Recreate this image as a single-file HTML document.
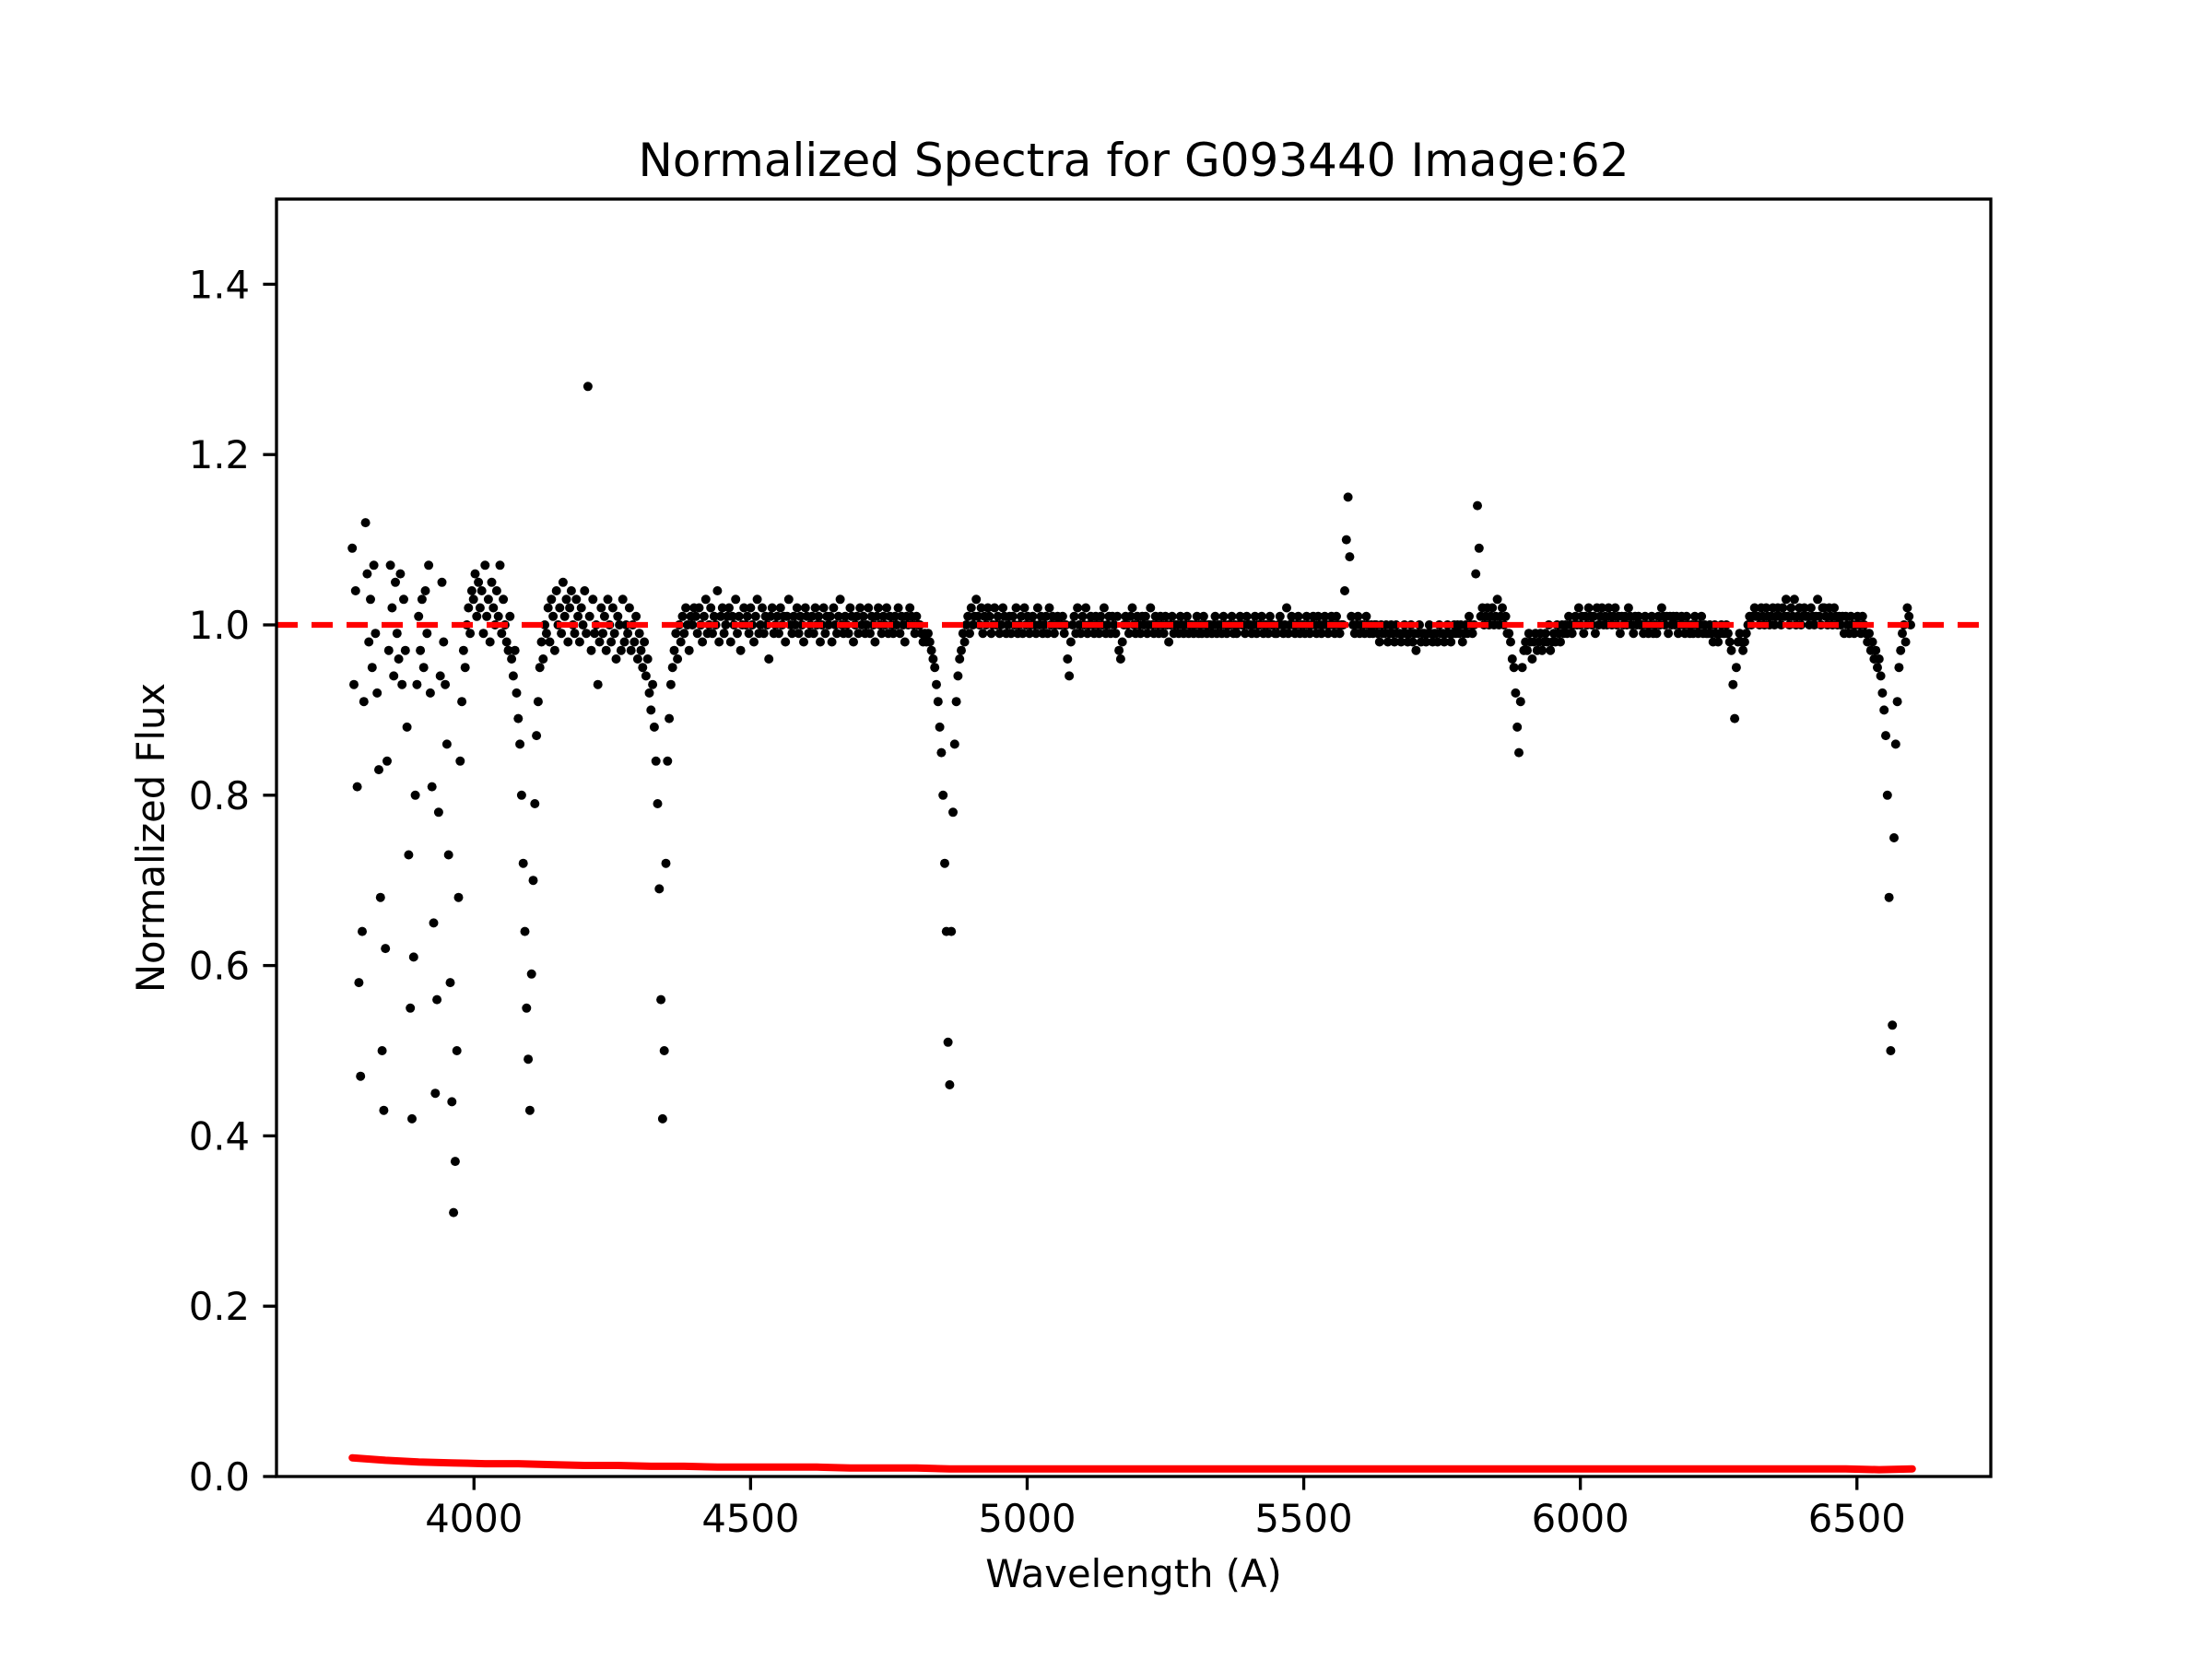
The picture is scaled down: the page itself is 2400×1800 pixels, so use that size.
<!DOCTYPE html>
<html><head><meta charset="utf-8"><style>
html,body{margin:0;padding:0;background:#fff;}
svg{display:block;font-family:"DejaVu Sans","Liberation Sans",sans-serif;}
</style></head>
<body>
<svg id="chart" width="2400" height="1800" viewBox="0 0 2400 1800" xmlns="http://www.w3.org/2000/svg">
<rect x="0" y="0" width="2400" height="1800" fill="#fff"/>
<text x="1230" y="191" font-size="50" text-anchor="middle">Normalized Spectra for G093440 Image:62</text>
<text x="1230" y="1722" font-size="41.7" text-anchor="middle">Wavelength (A)</text>
<text x="0" y="0" font-size="41.7" text-anchor="middle" transform="translate(178,909) rotate(-90)">Normalized Flux</text>
<g id="plot"></g>
</svg>
<script>
const waveStep = 3;
const segStart = [3780,4401,4821,4911,5061,5091,5151,5181,5571,5601,5811,5871,5901,5991,6261,6291,6321,6501,6531,6561,6591];
const segFlux = [
[1.09,0.93,1.04,0.81,0.58,0.47,0.64,
0.91,1.12,1.06,0.98,1.03,0.95,1.07,0.99,0.92,0.83,
0.68,0.50,0.43,0.62,0.84,0.97,1.07,1.02,0.94,1.05,
0.99,0.96,1.06,0.93,1.03,0.97,0.88,0.73,0.55,0.42,
0.61,0.80,0.93,1.01,0.97,1.03,0.95,1.04,0.99,1.07,
0.92,0.81,0.65,0.45,0.56,0.78,0.94,1.05,0.98,0.93,
0.86,0.73,0.58,0.44,0.31,0.37,0.50,0.68,0.84,0.91,
0.97,0.95,1.00,1.02,0.99,1.04,1.03,1.06,1.01,1.05,
1.02,1.04,0.99,1.07,1.01,1.03,0.98,1.05,1.02,1.00,
1.04,1.01,1.07,0.99,1.03,1.00,0.98,0.97,1.01,0.96,
0.94,0.97,0.92,0.89,0.86,0.80,0.72,0.64,0.55,0.49,
0.43,0.59,0.70,0.79,0.87,0.91,0.95,0.98,0.96,1.00,
0.99,1.02,0.98,1.03,1.01,0.97,1.04,1.00,1.02,0.99,
1.05,1.01,1.03,0.98,1.02,1.04,1.00,0.99,1.03,1.01,
0.98,1.02,1.00,1.04,0.99,1.28,1.01,0.97,1.03,0.99,
1.00,0.93,0.98,1.02,0.99,1.01,0.97,1.03,1.00,0.98,
1.02,0.99,0.96,1.01,1.00,0.97,1.03,0.98,1.00,0.99,
1.02,0.97,1.00,0.98,1.01,0.96,0.99,0.97,0.95,0.98,
0.94,0.96,0.92,0.90,0.93,0.88,0.84,0.79,0.69,0.56,
0.42,0.50,0.72,0.84,0.89,0.93,0.95,0.97,0.99,0.96,
1.00,0.98,1.01,0.99,1.02,1.00,0.97,1.01,1.00,1.02],
[1.01,0.99,1.02,1.00,0.98,1.01,1.03,0.99,1.00,1.02,
0.99,1.01,1.00,1.04,0.98,1.01,1.02,0.99,1.00,1.01,
1.02,0.98,1.01,1.00,1.03,0.99,1.01,0.97,1.00,1.02,
1.00,1.01,0.99,1.02,1.00,0.98,1.01,1.03,0.99,1.00,
1.02,0.99,1.01,1.00,0.96,1.01,1.02,0.99,1.00,1.01,
0.99,1.02,1.00,1.01,0.98,1.01,1.03,1.00,0.99,1.01,
1.00,1.02,0.99,1.01,1.00,0.98,1.02,1.01,0.99,1.00,
1.01,0.99,1.02,1.00,1.01,0.98,1.00,1.02,0.99,1.01,
1.00,1.01,0.98,1.02,1.00,0.99,1.01,1.03,1.00,0.99,
1.01,1.00,0.99,1.02,1.01,0.98,1.00,1.01,0.99,1.02,
1.00,1.01,0.99,1.00,1.02,0.99,1.01,1.00,0.98,1.01,
1.02,1.00,0.99,1.01,1.00,1.02,0.99,1.01,1.00,0.99,
1.01,1.00,1.02,0.99,1.01,1.00,0.98,1.01,1.00,1.02,
1.01,1.00,0.99,1.01,1.00,1.00,0.99,0.98,0.99,0.98],
[0.99,0.98,0.97,0.96,0.95,0.93,0.91,0.88,0.85,0.80,
0.72,0.64,0.51,0.46,0.64,0.78,0.86,0.91,0.94,0.96,
0.97,0.99,0.98,1.00,1.01,0.99,1.02,1.00,1.01,1.03],
[1.01,1.00,1.02,0.99,1.01,1.00,1.02,1.01,0.99,1.00,
1.02,1.00,1.01,0.99,1.00,1.02,1.01,0.99,1.00,1.01,
0.99,1.01,1.00,1.02,0.99,1.00,1.01,0.99,1.02,1.00,
1.01,0.99,1.00,1.01,1.00,0.99,1.02,1.00,1.01,0.99,
1.00,1.01,0.99,1.02,1.00,1.01,0.99,1.00,1.01,1.00],
[1.00,1.01,0.99,1.00,0.96,0.94,0.98,1.00,1.01,0.99],
[1.02,1.00,0.99,1.01,1.00,1.02,0.99,1.00,1.01,1.00,
0.99,1.01,1.00,0.99,1.01,1.00,1.02,0.99,1.00,1.01],
[0.99,1.01,1.00,0.99,1.01,0.97,0.96,0.98,1.00,1.01],
[1.00,0.99,1.01,1.02,1.00,0.99,1.01,1.00,0.99,1.01,
1.00,1.01,0.99,1.00,1.02,1.00,0.99,1.01,1.00,0.99,
1.01,1.00,0.99,1.01,1.00,0.98,1.00,1.01,0.99,1.00,
1.00,0.99,1.01,1.00,0.99,1.00,1.01,0.99,1.00,1.00,
0.99,1.00,1.01,0.99,1.00,0.99,1.01,1.00,0.99,1.00,
1.00,0.99,1.00,1.01,0.99,1.00,1.00,0.99,1.01,1.00,
0.99,1.00,1.00,1.01,0.99,1.00,0.99,1.00,1.01,1.00,
1.00,0.99,1.01,1.00,1.00,0.99,1.00,1.01,0.99,1.00,
1.00,1.01,0.99,1.00,1.00,0.99,1.01,1.00,1.00,0.99,
0.99,1.00,1.01,1.00,0.99,1.00,1.02,0.99,1.00,1.01,
1.00,0.99,1.00,1.01,0.99,1.00,1.00,0.99,1.01,1.00,
0.99,1.00,1.01,1.00,0.99,1.01,1.00,0.99,1.00,1.01,
1.00,0.99,1.00,1.01,1.00,0.99,1.01,1.00,0.99,1.00],
[1.00,1.04,1.10,1.15,1.08,1.01,1.00,0.99,1.00,1.01],
[0.99,1.00,1.00,0.99,1.01,1.00,0.99,1.00,0.99,1.00,
1.00,0.99,0.98,1.00,0.99,0.99,1.00,0.98,0.99,1.00,
0.99,0.98,1.00,0.99,0.99,0.98,0.99,1.00,0.99,0.98,
0.99,1.00,0.98,0.99,0.97,0.99,1.00,0.98,0.99,0.99,
0.98,0.99,1.00,0.99,0.98,0.99,0.99,0.98,1.00,0.99,
0.99,0.98,0.99,1.00,0.99,0.98,0.99,1.00,0.99,1.00,
0.99,1.00,0.98,0.99,1.00,0.99,1.01,1.00,0.99,1.00],
[1.06,1.14,1.09,1.01,1.02,1.00,1.01,1.02,1.00,1.01,
1.02,1.00,1.01,1.03,1.00,1.01,1.02,1.00,1.01,0.99],
[0.99,0.98,0.96,0.95,0.92,0.88,0.85,0.91,0.95,0.97],
[0.98,0.97,0.99,0.98,0.96,0.98,0.99,0.97,0.98,0.99,
0.97,0.98,0.99,0.98,1.00,0.97,0.98,0.99,0.98,1.00,
0.99,0.98,1.00,0.99,1.00,0.99,1.01,1.00,0.99,1.00],
[1.01,1.00,1.02,1.00,1.01,0.99,1.01,1.00,1.02,1.01,
1.00,1.01,0.99,1.02,1.00,1.01,1.02,1.00,1.01,1.00,
1.02,1.01,1.00,1.01,1.02,1.00,1.01,0.99,1.01,1.00,
1.01,1.00,1.02,1.01,1.00,0.99,1.01,1.00,1.01,1.00,
1.00,0.99,1.01,1.00,0.99,1.00,1.01,0.99,1.00,0.99,
1.01,1.00,1.02,1.01,1.00,1.01,0.99,1.01,1.00,1.01,
1.00,1.01,0.99,1.00,1.01,1.00,0.99,1.01,1.00,0.99,
1.00,0.99,1.01,1.00,0.99,1.00,1.01,0.99,1.00,0.99,
0.99,1.00,0.99,0.98,1.00,0.99,0.98,0.99,1.00,0.99],
[0.99,1.00,0.99,0.98,0.97,0.93,0.89,0.95,0.98,0.99],
[0.98,0.97,0.98,0.99,1.00,1.01,1.00,1.01,1.02,1.01],
[1.01,1.00,1.02,1.01,1.00,1.02,1.01,1.00,1.01,1.02,
1.00,1.01,1.02,1.01,1.00,1.02,1.01,1.03,1.01,1.00,
1.02,1.01,1.03,1.00,1.01,1.02,1.00,1.01,1.02,1.01,
1.01,1.00,1.02,1.01,1.00,1.01,1.03,1.01,1.00,1.02,
1.02,1.01,1.00,1.02,1.01,1.00,1.02,1.01,1.00,1.01,
1.00,1.01,0.99,1.01,1.00,0.99,1.01,1.00,0.99,1.00],
[1.01,1.00,0.99,1.01,1.00,0.99,0.98,0.99,0.97,0.98],
[0.96,0.97,0.95,0.96,0.94,0.92,0.90,0.87,0.80,0.68],
[0.50,0.53,0.75,0.86,0.91,0.95,0.97,0.99,1.00,0.98],
[1.02,1.01,1.00]
];
const errWave = [3780,3840,3900,3960,4020,4080,4140,4200,4260,4320,4380,4440,4500,4560,4620,4680,4740,4800,4860,4920,4980,5040,5100,5160,5220,5280,5340,5400,5460,5520,5580,5640,5700,5760,5820,5880,5940,6000,6060,6120,6180,6240,6300,6360,6420,6480,6540,6600];
const errFlux = [0.022,0.019,0.017,0.016,0.015,0.015,0.014,0.013,0.013,0.012,0.012,0.011,0.011,0.011,0.011,0.010,0.010,0.010,0.009,0.009,0.009,0.009,0.009,0.009,0.009,0.009,0.009,0.009,0.009,0.009,0.009,0.009,0.009,0.009,0.009,0.009,0.009,0.009,0.009,0.009,0.009,0.009,0.009,0.009,0.009,0.009,0.008,0.009];
const xTicks = [4000,4500,5000,5500,6000,6500];
const yTicks = [0.0,0.2,0.4,0.6,0.8,1.0,1.2,1.4];
const yTickLabels = ["0.0","0.2","0.4","0.6","0.8","1.0","1.2","1.4"];
const refLevel = [1.0];

const L=300,R=2160,T=216,B=1602;
const xMin=3643,xMax=6742,yMin=0,yMax=1.5;
function sx(v){return L+(v-xMin)/(xMax-xMin)*(R-L);}
function sy(v){return B-(v-yMin)/(yMax-yMin)*(B-T);}
const NS="http://www.w3.org/2000/svg";
const plot=document.getElementById('plot');
function mk(tag,attrs,parent){const e=document.createElementNS(NS,tag);for(const k in attrs)e.setAttribute(k,attrs[k]);(parent||plot).appendChild(e);return e;}

const pts=mk('g',{});


segStart.forEach((w0,s)=>{
  segFlux[s].forEach((f,i)=>{
    const c=mk('circle',{cx:sx(w0+i*waveStep).toFixed(1),cy:sy(f).toFixed(1),r:5,fill:'#000'},pts);
    
    
  });
});
const ep=errWave.map((w,i)=>sx(w).toFixed(1)+','+sy(errFlux[i]).toFixed(1)).join(' ');
const el=mk('polyline',{points:ep,fill:'none',stroke:'#ff0000','stroke-width':8,'stroke-linecap':'round','stroke-linejoin':'round'});


refLevel.forEach(v=>{
  const ln=mk('line',{x1:L,x2:R,y1:sy(v),y2:sy(v),stroke:'#ff0000','stroke-width':6.25,'stroke-dasharray':'23 15'});
  
  
});
const fr=mk('rect',{x:L,y:T,width:R-L,height:B-T,fill:'none',stroke:'#000','stroke-width':3.33});


xTicks.forEach(v=>{
  const x=sx(v);
  const t=mk('line',{x1:x,x2:x,y1:B,y2:B+14.6,stroke:'#000','stroke-width':3.33});
  
  
  const tx=mk('text',{x:x,y:B+60,'font-size':41.7,'text-anchor':'middle'});
  tx.textContent=String(v);
  
  
});
yTicks.forEach((v,i)=>{
  const y=sy(v);
  const t=mk('line',{x1:L-14.6,x2:L,y1:y,y2:y,stroke:'#000','stroke-width':3.33});
  
  
  const tx=mk('text',{x:L-29,y:y+15,'font-size':41.7,'text-anchor':'end'});
  tx.textContent=yTickLabels[i];
  
  
});
</script>
</body></html>
